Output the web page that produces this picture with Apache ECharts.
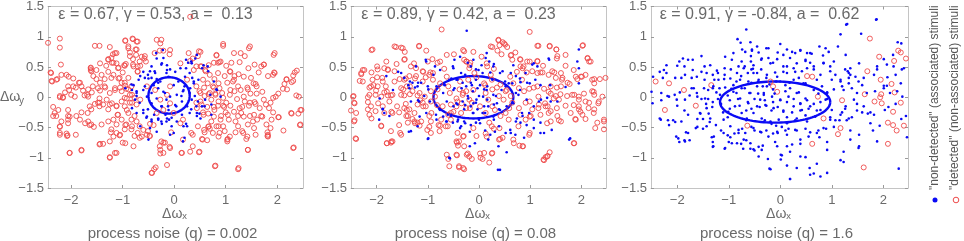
<!DOCTYPE html>
<html>
<head>
<meta charset="utf-8">
<script src="https://cdn.jsdelivr.net/npm/echarts@6/dist/echarts.min.js"></script>
<style>
html, body { margin: 0; padding: 0; background: #fff; }
#chart { width: 964px; height: 241px; }
</style>
</head>
<body>
<div id="chart"></div>
<script>
// ticks / labels
const xTicks = [-2, -1, 0, 1, 2]
const yTicks = [-1.5, -1, -0.5, 0, 0.5, 1, 1.5]
const xRanges = [[-2.45, 2.5], [-2.5, 2.48], [-2.51, 2.48]]
const yRange = [-1.5, 1.5]
const paramLabels = ['ε = 0.67, γ = 0.53, a =  0.13', 'ε = 0.89, γ = 0.42, a =  0.23', 'ε = 0.91, γ = -0.84, a =  0.62']
const noiseLabels = ['process noise (q) = 0.002', 'process noise (q) = 0.08', 'process noise (q) = 1.6']
const legendLabels = ['"non-detected" (associated) stimuli', '"detected" (non-associated) stimuli']

// ellipse per panel: [cx, cy, rx, ry]
const ellipses = [[-0.1, 0.03, 0.4, 0.3], [-0.11, 0, 0.78, 0.35], [-0.1, -0.08, 1.07, 0.34]]

// panel 1 (q = 0.002)
const p1Detected = [[-2.45,0.90],[-2.22,0.97],[-2.22,0.82],[-2.40,0.41],[-2.2,0.54],[-2.38,0.27],[-2.29,0.29],[-2.09,0.37],[-1.96,0.31],[-1.85,0.24],[-1.91,0.16],[-2.04,0.12],[-2.12,0.08],[-2.22,0.0],[-2.16,0.0],[-2.35,-0.16],[-2.25,-0.21],[-2.35,-0.31],[-2.06,-0.21],[-2.03,-0.32],[-2.06,-0.37],[-2.22,-0.48],[-2.22,-0.59],[-2.08,-0.64],[-2.09,-0.60],[-2.03,-0.92],[-1.8,-0.88],[-1.91,-0.62],[-1.73,-0.43],[-1.64,-0.46],[-1.56,-0.49],[-1.68,-0.26],[-1.64,-0.15],[-1.54,-0.11],[-1.45,-0.09],[-1.45,-0.02],[-1.6,0.08],[-1.69,0.04],[-1.77,0.11],[-1.44,0.11],[-1.34,0.16],[-1.44,0.24],[-1.57,0.35],[-1.62,0.45],[-1.62,0.49],[-1.51,0.45],[-1.44,0.56],[-1.32,0.52],[-1.28,0.63],[-1.19,0.71],[-1.15,0.73],[-1.21,0.57],[-1.12,0.56],[-1.08,0.49],[-1.0,0.41],[-0.97,0.53],[-0.94,0.55],[-0.95,0.93],[-0.81,0.97],[-0.73,0.92],[-0.89,0.84],[-0.73,0.79],[-0.86,0.74],[-0.74,0.70],[-0.63,0.67],[-0.58,0.64],[-0.55,0.59],[-0.79,0.51],[-0.71,0.42],[-0.66,0.52],[-1.28,0.42],[-1.18,0.37],[-1.08,0.31],[-1.02,0.24],[-0.95,0.19],[-0.89,0.13],[-1.05,0.16],[-1.15,0.12],[-1.25,0.07],[-1.31,-0.04],[-1.21,-0.10],[-1.12,-0.14],[-1.02,-0.07],[-0.92,-0.02],[-0.82,0.04],[-0.82,-0.09],[-0.92,-0.21],[-1.1,-0.29],[-1.18,-0.37],[-1.02,-0.37],[-0.95,-0.46],[-0.82,-0.48],[-0.73,-0.40],[-1.12,-0.59],[-1.18,-0.65],[-1.05,-0.62],[-0.95,-0.76],[-1.0,-0.75],[-1.15,-0.92],[-1.25,-0.99],[-1.44,-0.77],[-1.38,-0.77],[-0.79,-0.81],[-0.63,-0.65],[-0.53,-0.62],[-0.48,-0.64],[-0.6,-0.54],[-0.4,-0.46],[-0.47,-0.44],[-0.44,-1.25],[-0.39,-1.19],[-0.27,-0.93],[-0.27,-0.87],[-0.21,-0.75],[-0.09,-0.82],[-0.14,-1.12],[-0.06,-0.58],[0.15,-0.92],[0.31,-0.90],[0.49,-0.90],[0.36,-0.62],[0.54,-0.69],[0.64,-0.71],[0.67,-0.48],[0.75,-0.59],[0.58,-0.54],[0.86,-0.65],[0.8,-1.13],[1.03,-0.70],[1.08,-0.65],[1.24,-0.48],[1.42,-0.65],[1.43,-0.87],[1.25,-1.17],[1.55,-0.51],[1.61,-0.37],[1.81,-0.64],[1.81,-0.58],[2.03,-0.33],[2.12,-0.55],[2.32,-0.83],[2.44,-0.46],[2.27,-0.26],[2.45,-0.21],[2.42,0.01],[2.19,0.13],[2.14,0.22],[2.18,0.30],[2.38,0.44],[2.31,0.27],[1.94,0.41],[1.95,0.73],[1.74,0.54],[1.64,0.41],[1.58,0.22],[1.49,0.32],[1.44,0.48],[1.47,0.84],[1.29,0.73],[1.16,0.73],[0.95,0.88],[0.82,0.70],[0.9,0.59],[0.77,0.57],[0.67,0.53],[0.51,0.75],[0.36,0.64],[0.31,0.60],[0.43,0.51],[0.51,0.51],[0.6,0.45],[1.09,0.42],[1.25,0.38],[1.35,0.34],[1.16,0.29],[1.03,0.24],[0.86,0.23],[0.77,0.16],[0.58,0.16],[0.51,0.07],[0.67,0.05],[0.8,0.04],[0.93,0.07],[1.09,0.12],[1.29,0.12],[1.42,0.16],[1.22,-0.03],[1.09,-0.14],[0.97,-0.16],[0.86,-0.07],[0.77,-0.16],[0.64,-0.16],[0.51,-0.07],[0.44,-0.18],[0.57,-0.29],[0.77,-0.32],[0.9,-0.37],[1.04,-0.29],[1.16,-0.24],[1.32,-0.16],[1.45,-0.14],[1.58,-0.11],[1.74,-0.04],[1.84,-0.18],[1.97,0.01],[1.71,0.09],[1.55,-0.29],[1.35,-0.32],[1.19,-0.40],[0.86,-0.48],[0.12,-0.43],[-0.01,-0.26],[-0.21,-0.21],[-0.34,-0.26],[-0.08,-0.10],[-0.27,-0.04],[-0.14,0.04],[-0.08,0.18],[-0.37,0.12],[-0.66,-0.04],[-0.53,0.18],[-0.34,0.95],[-0.27,0.89],[-0.21,0.77],[-0.09,0.71],[-0.08,0.78],[0.12,0.56],[0.38,0.45],[0.28,0.73],[0.25,0.29],[0.31,1.33],
  [-0.95,0.94],[-0.8,0.96],[-0.71,0.92],[-0.25,0.95],[-0.89,0.81],[-0.75,0.79],[-0.57,0.68],[-0.86,0.68],[-0.8,0.63],[-0.67,0.59],[-1.25,0.83],[-1.22,0.65],[-1.12,0.73],[-1.28,0.62],[-1.18,0.57],[-1.09,0.48],[-0.96,0.52],[-0.8,0.54],[-0.71,0.51],[-0.71,0.43],[-1.54,0.85],[-1.45,0.85],[-1.62,0.48],[-1.61,0.43],[-1.41,0.37],[-1.51,0.30],[-1.35,0.30],[-1.22,0.32],[-1.06,0.32],[-0.89,0.32],[-0.96,0.24],[-0.83,0.18],[-0.93,0.14],[-1.02,0.10],[-1.15,0.15],[-1.35,0.18],[-1.48,0.15],[-1.58,0.18],[-1.67,0.13],[-1.8,0.18],[-1.83,0.24],[-1.96,0.18],[-2.06,0.18],[-2.19,0.37],[-2.05,0.34],[-2.37,0.26],[-2.27,0.30],[-2.39,0.40],[-2.22,0.02],[-2.16,-0.01],[-2.0,0.04],[-1.93,0.01],[-1.74,0.03],[-1.67,0.01],[-1.48,-0.09],[-1.45,-0.15],[-1.61,-0.20],[-1.8,-0.25],[-1.9,-0.31],[-2.06,-0.31],[-2.32,-0.26],[-2.29,-0.31],[-2.19,-0.40],[-2.06,-0.43],[-2.22,-0.49],[-2.22,-0.62],[-2.07,-0.63],[-1.38,-0.12],[-1.25,-0.12],[-1.28,-0.20],[-1.12,-0.15],[-1.09,-0.29],[-0.96,-0.15],[-0.86,-0.09],[-0.96,-0.01],[-0.86,0.04],[-0.77,-0.01],[-0.73,-0.12],[-0.89,-0.26],[-0.77,-0.31],[-0.83,-0.37],[-0.93,-0.45],[-0.96,-0.53],[-0.83,-0.53],[-0.67,-0.48],[-0.71,-0.59],[-0.77,-0.64],[-0.67,-0.67],[-1.22,-0.53],[-1.12,-0.45],[-1.28,-0.40],[-1.41,-0.45],[-1.61,-0.45],[-1.67,-0.40],[-1.83,-0.37],[-1.23,-0.58],[-1.06,-0.63],[-1.25,-0.73],[-1.45,-0.78],[-1.8,-0.87],[-2.03,-0.92],[-1.25,-1.00],[-1.12,-0.92],[-0.47,-0.64],[-0.51,-0.56],[-0.25,-0.73],[-0.18,-0.75],[-0.28,-0.81],[-0.21,-0.92],[-0.36,-1.16],[-0.43,-1.25],[-0.08,-0.84],[-0.28,0.77],[-0.38,0.73],
  [0.95,0.85],[0.48,0.76],[0.46,0.68],[0.82,0.69],[0.88,0.58],[0.85,0.57],[1.01,0.52],[1.11,0.57],[1.27,0.58],[1.37,0.68],[1.45,0.81],[1.56,0.54],[1.69,0.51],[1.74,0.54],[1.93,0.70],[1.82,0.35],[1.92,0.37],[1.95,0.40],[2.18,0.29],[2.28,0.25],[2.31,0.36],[2.34,0.41],[2.37,0.03],[2.47,-0.21],[2.41,-0.27],[2.45,-0.45],[2.28,-0.27],[2.31,-0.84],[2.11,0.14],[2.02,0.06],[1.92,-0.01],[1.87,-0.09],[1.78,-0.12],[1.92,-0.25],[2.02,-0.33],[1.89,-0.37],[1.79,-0.45],[1.87,-0.51],[1.82,-0.62],[1.82,-0.65],[1.69,-0.31],[1.66,-0.18],[1.56,-0.08],[1.47,-0.09],[1.48,0.06],[1.6,0.06],[1.6,0.18],[1.54,0.23],[1.43,0.13],[1.35,0.01],[1.37,-0.07],[1.27,-0.18],[1.3,-0.26],[1.24,-0.31],[1.47,-0.31],[1.53,-0.40],[1.58,-0.62],[1.43,-0.45],[1.34,-0.59],[1.4,-0.69],[1.19,-0.58],[1.06,-0.37],[1.0,-0.25],[0.95,-0.14],[1.01,-0.09],[0.95,-0.01],[1.08,0.04],[1.17,0.10],[1.24,0.18],[1.14,0.26],[1.17,0.35],[1.08,0.43],[0.98,0.35],[0.85,0.40],[0.78,0.30],[0.69,0.37],[0.61,0.43],[0.53,0.51],[0.56,0.29],[0.65,0.23],[0.75,0.18],[0.88,0.15],[0.8,0.06],[0.69,0.07],[0.59,0.02],[0.49,0.10],[0.43,0.18],[0.72,-0.04],[0.85,-0.14],[0.78,-0.21],[0.66,-0.27],[0.56,-0.25],[0.53,-0.12],[0.43,-0.09],[0.91,-0.31],[0.72,-0.40],[0.66,-0.49],[0.69,-0.52],[0.82,-0.48],[0.95,-0.48],[0.98,-0.56],[1.04,-0.69],[1.03,-0.73],[0.88,-0.59],[0.59,-0.58],[0.46,-0.48],[0.17,-0.37],[0.17,-0.70],[0.33,-0.59],[0.55,-0.70],[0.36,-0.81],[0.48,-0.91],[0.14,-0.92],[0.79,-1.14],[1.24,-1.19],[1.43,-0.87],[1.32,-0.56],[1.71,-0.32]]
const p1Associated = [[-0.35,0.73],[-0.22,0.78],[-0.34,0.64],[-0.24,0.56],[-0.14,0.53],[-0.44,0.51],[-0.6,0.42],[-0.66,0.35],[-0.69,0.29],[-0.79,0.20],[-0.82,0.12],[-0.73,0.07],[-0.76,-0.04],[-0.82,-0.18],[-0.73,-0.26],[-0.6,-0.21],[-0.53,-0.32],[-0.44,-0.40],[-0.47,-0.51],[-0.34,-0.57],[-0.24,-0.44],[-0.14,-0.35],[-0.05,-0.48],[-0.01,-0.59],[-0.08,-0.62],[0.05,-0.40],[0.15,-0.29],[0.25,-0.48],[0.17,-0.73],[0.23,-0.44],[0.44,-0.26],[0.51,-0.35],[0.54,-0.15],[0.6,-0.04],[0.7,0.04],[0.83,0.12],[0.9,0.01],[0.77,0.26],[0.47,0.29],[0.38,0.26],[0.41,0.64],[0.44,0.70],[0.34,0.56],[0.57,0.53],[0.65,0.51],[0.12,0.48],[0.02,0.42],[-0.11,0.34],[-0.27,0.26],[-0.4,0.20],[-0.31,0.15],[-0.21,0.09],[-0.01,0.20],[0.08,0.26],[0.18,0.12],[0.05,0.04],[-0.08,0.01],[-0.34,-0.02],[-0.44,-0.10],[-0.24,-0.15],[-0.11,-0.21],[0.02,-0.13],[0.15,-0.07],[0.25,-0.15],[-0.53,0.01],[-0.6,0.12],[-0.5,0.31],[-0.37,0.40],[-0.14,0.45],[0.21,0.34],[0.31,0.15],[0.34,-0.04],[-0.66,-0.48],[-0.5,-0.70],[-0.17,-0.29],[-0.31,-0.35],
  [-0.95,0.15],[-0.83,0.21],[-0.73,0.10],[-0.73,0.02],[-0.67,-0.09],[-0.57,0.18],[-0.57,0.32],[-0.51,0.37],[-0.44,0.32],[-0.34,0.30],[-0.47,0.43],[-0.38,0.43],[-0.25,0.54],[-0.21,0.65],[-0.15,0.40],[-0.08,0.46],[-0.6,-0.26],[-0.51,-0.20],[-0.39,-0.29],[-0.31,-0.37],[-0.25,-0.40],[-0.15,-0.40],[-0.1,-0.37],[-0.05,-0.34],[-0.44,-0.37],[-0.54,-0.34],[-0.44,0.07],[-0.31,0.24],[-0.18,0.07],[-0.15,-0.04],[-0.25,-0.15],[-0.12,-0.15],
  [0.23,0.62],[0.27,0.57],[0.33,0.59],[0.23,0.48],[0.3,0.40],[0.35,0.32],[0.38,0.23],[0.2,0.18],[0.17,0.10],[0.14,0.02],[0.3,0.07],[0.4,0.02],[0.46,-0.07],[0.43,-0.15],[0.33,-0.20],[0.3,-0.26],[0.49,-0.27],[0.44,-0.31],[0.59,-0.15],[0.72,-0.12],[0.82,0.13],[0.72,-0.29],[0.18,-0.48],[0.2,-0.67],[0.04,-0.15],[0.54,0.48],[0.66,0.43]]

// panel 2 (q = 0.08)
const p2Detected = [[-0.73,1.12],[0.99,1.08],[-2.1,0.78],[-1.65,0.84],[-1.52,0.82],[-1.45,0.75],[-1.17,0.85],[-1.03,0.77],[-1.45,0.63],[-1.61,0.55],[-1.81,0.59],[-1.99,0.51],[-2.1,0.41],[-2.27,0.45],[-2.3,0.38],[-2.33,0.27],[-1.99,0.33],[-1.78,0.45],[-1.88,0.26],[-2.06,0.20],[-2.14,0.16],[-2.01,0.11],[-1.8,0.09],[-1.69,0.04],[-1.91,0.01],[-2.17,0.0],[-2.46,0.01],[-2.43,-0.10],[-2.5,-0.22],[-2.43,-0.38],[-2.41,-0.68],[-2.17,-0.20],[-2.14,-0.29],[-2.1,-0.35],[-1.91,-0.48],[-1.8,-0.76],[-1.71,-0.73],[-1.54,-0.59],[-1.56,-0.46],[-1.71,-0.24],[-1.6,-0.15],[-1.43,-0.11],[-1.41,-0.21],[-1.42,-0.31],[-1.3,-0.36],[-1.25,-0.43],[-1.16,-0.47],[-1.01,-0.54],[-1.35,0.05],[-1.48,0.13],[-1.35,0.18],[-1.25,0.31],[-1.43,0.31],[-1.55,0.30],[-1.27,0.56],[-1.09,0.42],[-1.04,0.33],[-0.95,0.41],[-0.91,0.63],[-0.76,0.59],[-0.63,0.70],[-0.49,0.71],[-0.31,0.78],[-0.29,0.62],[-0.11,0.75],[-0.24,0.59],[-0.18,0.53],[0.05,0.67],[0.15,0.56],[0.23,0.84],[0.4,0.86],[0.38,0.95],[0.49,0.89],[0.44,0.71],[0.63,0.70],[0.71,0.74],[0.8,0.63],[0.87,0.51],[0.99,0.59],[1.14,0.60],[1.14,0.85],[1.38,0.85],[1.51,0.79],[1.52,0.64],[1.25,0.52],[0.93,0.41],[0.84,0.29],[1.2,0.41],[1.36,0.37],[1.47,0.41],[1.6,0.40],[1.69,0.52],[1.85,0.45],[2.03,0.86],[2.12,0.64],[2.18,0.59],[2.01,0.34],[1.92,0.30],[2.21,0.29],[2.36,0.30],[2.49,0.33],[2.25,0.23],[1.77,0.22],[1.62,0.29],[1.52,0.16],[1.36,0.09],[1.07,0.16],[1.16,0.01],[0.99,-0.07],[1.29,-0.10],[1.46,-0.02],[1.59,0.05],[1.72,0.02],[1.86,0.04],[1.95,-0.04],[2.08,-0.07],[2.24,0.09],[2.34,-0.07],[2.41,0.01],[2.14,-0.18],[2.24,-0.26],[1.98,-0.24],[1.85,-0.13],[1.69,-0.14],[1.52,-0.18],[1.34,-0.15],[1.16,-0.18],[1.2,-0.29],[1.36,-0.26],[1.56,-0.38],[1.88,-0.36],[2.08,-0.36],[2.27,-0.51],[2.44,-0.37],[2.44,-0.53],[1.85,-0.76],[1.33,-0.43],[0.99,-0.32],[0.99,-0.59],[0.86,-0.81],[0.79,-0.80],[0.67,-0.70],[0.41,-0.69],[0.4,-0.51],[0.25,-0.48],[0.15,-0.65],[-0.05,-0.64],[-0.11,-0.51],[-0.31,-0.65],[-0.44,-0.73],[-0.41,-0.80],[-0.44,-0.95],[-0.24,-0.95],[-0.14,-1.02],[0.02,-0.93],[0.07,-1.02],[0.25,-0.93],[-0.58,-1.14],[-0.39,-1.14],[-0.31,-1.17],[-0.63,-0.95],[-0.6,-1.02],[1.34,-0.97],[1.26,-1.03],[1.3,-0.99],[-0.65,-0.48],[-0.76,-0.47],[-0.5,-0.24],[-0.44,-0.15],[-0.34,-0.10],[-0.18,-0.18],[0.02,-0.15],[0.18,-0.04],[0.31,-0.21],[0.48,-0.04],[0.54,0.12],[0.35,0.16],[0.12,0.20],[-0.11,0.12],[-0.31,0.07],[-0.44,-0.02],[-0.57,0.07],[-0.6,0.18],[-0.37,0.26],[-0.21,0.29],[-0.05,0.33],[0.25,0.29],[-0.63,0.34],[-0.76,0.23],[-0.9,0.29],[-0.86,0.01],[-1.06,0.01],[-1.09,-0.15],[-0.93,-0.26],[-0.82,-0.13],[-0.6,-0.29],[0.58,-0.37],[0.77,-0.48],[0.61,0.34],[0.67,0.23],[0.74,0.42],[-1.16,0.07],[-1.15,-0.05],[-1.75,-0.07],[-1.88,-0.15],[-1.97,-0.10],
  [-2.08,0.79],[-1.62,0.83],[-1.49,0.81],[-1.17,0.84],[-1.46,0.62],[-1.78,0.46],[-1.65,0.43],[-1.85,0.48],[-1.98,0.46],[-2.24,0.45],[-2.3,0.40],[-2.27,0.26],[-2.08,0.29],[-1.89,0.32],[-1.98,0.18],[-2.11,0.18],[-2.02,0.04],[-2.14,0.04],[-1.85,0.08],[-1.78,0.03],[-1.72,0.03],[-1.52,0.04],[-1.46,0.03],[-1.82,0.18],[-1.65,0.26],[-1.52,0.15],[-1.41,0.18],[-1.3,0.10],[-1.2,0.03],[-1.1,0.26],[-0.97,0.37],[-0.9,0.40],[-1.1,0.43],[-1.23,0.48],[-1.33,0.51],[-1.23,0.35],[-1.36,0.35],[-1.46,0.29],[-2.45,0.02],[-2.44,-0.09],[-2.4,-0.26],[-2.44,-0.40],[-2.4,-0.69],[-2.17,-0.08],[-2.11,-0.15],[-2.02,-0.23],[-1.85,-0.26],[-1.69,-0.26],[-1.56,-0.25],[-1.46,-0.18],[-1.36,-0.20],[-1.2,-0.12],[-1.1,-0.09],[-1.04,-0.15],[-0.94,-0.07],[-1.26,-0.26],[-1.39,-0.31],[-1.26,-0.40],[-1.2,-0.42],[-1.39,-0.42],[-1.13,-0.40],[-0.97,-0.31],[-0.94,-0.40],[-0.97,-0.49],[-0.94,-0.59],[-0.79,-0.46],[-0.74,-0.37],[-0.55,-0.37],[-1.91,-0.47],[-1.72,-0.56],[-1.52,-0.62],[-1.72,-0.75],[-1.8,-0.76],[-1.69,-0.73],[-0.42,-0.59],[-0.43,-0.75],[-0.39,-0.73],[-0.3,-0.64],[-0.29,-0.81],[-0.43,-0.96],[-0.39,-1.16],[-0.29,-1.19],[-0.22,-0.93],[-0.19,-0.98],[-0.94,0.10],[-0.81,0.13],[-0.71,-0.15],[-0.55,-0.12],[-0.42,-0.07],[-0.32,0.04],[-0.38,0.13],[-0.25,0.10],[-0.19,-0.04],[-0.14,-0.09],[-0.25,-0.18],[-0.35,-0.26],[-0.55,-0.26],[-0.61,-0.48],[-0.77,-0.56],[-0.17,0.57],[-0.09,0.40],[-0.25,0.59],[-0.19,0.48],[-0.29,0.76],[-1.0,0.59],[-0.81,0.57],[-0.68,0.47],
  [0.38,0.94],[0.46,0.91],[0.51,0.87],[0.55,0.83],[0.26,0.83],[0.36,0.77],[1.16,0.85],[1.38,0.84],[1.51,0.79],[1.53,0.68],[1.69,0.70],[2.02,0.85],[2.12,0.65],[2.15,0.59],[0.62,0.69],[0.65,0.62],[0.81,0.62],[0.81,0.51],[0.94,0.59],[1.14,0.59],[0.85,0.48],[1.04,0.43],[1.14,0.40],[1.24,0.41],[1.43,0.43],[1.5,0.32],[1.63,0.32],[1.73,0.24],[1.89,0.34],[1.99,0.34],[2.08,0.37],[2.25,0.30],[2.47,0.32],[1.6,0.18],[1.4,0.18],[1.27,0.14],[1.14,0.18],[0.98,0.14],[0.88,0.10],[0.78,0.15],[1.4,0.06],[1.5,0.02],[1.56,-0.04],[1.82,0.04],[1.95,0.01],[2.05,0.06],[2.21,0.10],[2.25,0.04],[2.33,-0.10],[2.15,-0.09],[1.95,-0.15],[1.79,-0.26],[1.95,-0.20],[2.02,-0.29],[2.25,-0.20],[2.31,-0.42],[2.44,-0.40],[1.89,-0.37],[1.6,-0.40],[1.53,-0.31],[1.4,-0.40],[1.4,-0.23],[1.3,-0.15],[1.17,-0.12],[1.04,-0.20],[1.01,-0.31],[0.91,-0.37],[0.81,-0.29],[0.78,-0.18],[0.91,-0.09],[0.65,-0.09],[0.59,-0.18],[0.52,-0.26],[0.42,-0.31],[0.26,-0.15],[0.13,-0.26],[0.2,-0.42],[0.29,-0.52],[0.13,-0.60],[0.39,-0.70],[0.46,-0.67],[0.26,-0.92],[0.1,-0.92],[0.2,-1.08],[0.03,-1.00],[0.68,-0.76],[0.85,-0.81],[0.98,-0.62],[1.27,-1.04],[1.33,-0.98],[1.38,-0.91],[1.86,-0.76],[0.39,0.02],[0.52,0.10],[0.62,0.02],[0.42,0.21],[0.26,0.13],[0.13,0.07],[0.1,0.23],[0.23,0.37],[0.29,0.47],[0.16,0.51]]
const p2Associated = [[-0.24,1.10],[1.95,0.79],[1.92,0.59],[1.07,0.56],[1.14,0.51],[1.36,0.64],[-1.81,0.35],[-1.94,-0.02],[-1.88,-0.20],[-1.95,-0.37],[-1.37,-0.57],[-1.58,0.42],[-1.35,0.26],[-1.38,0.20],[-1.25,0.16],[-1.19,0.24],[-1.19,-0.05],[-1.03,0.59],[-0.86,0.51],[-0.76,0.45],[-0.83,0.18],[-0.99,0.13],[-0.96,-0.07],[-1.03,-0.26],[-1.16,-0.32],[-0.99,-0.68],[-0.83,-0.37],[-0.7,-0.32],[-0.63,-0.40],[-0.54,-0.29],[-0.41,-0.37],[-0.27,-0.43],[-0.37,-0.51],[-0.18,-0.57],[0.02,-0.43],[0.12,-0.55],[0.22,-0.62],[0.31,-0.57],[0.38,-0.81],[0.41,-1.20],[0.54,-0.91],[-0.18,-0.81],[-0.08,-0.76],[-0.57,-1.01],[0.18,-0.70],[0.61,-0.54],[0.71,-0.62],[0.74,-0.35],[0.84,-0.26],[0.93,-0.46],[1.07,-0.37],[1.07,-0.51],[1.2,-0.59],[1.42,-0.54],[1.78,-0.68],[1.21,-0.04],[1.07,-0.15],[0.93,-0.04],[0.8,0.12],[0.99,0.23],[1.1,0.29],[1.2,0.20],[1.39,0.20],[0.8,0.31],[0.58,0.23],[0.44,0.12],[0.41,0.40],[0.51,0.26],[0.22,0.41],[0.28,0.51],[0.05,0.53],[-0.01,0.45],[0.15,0.73],[-0.11,0.62],[-0.37,0.67],[-0.5,0.48],[-0.44,0.29],[-0.54,0.31],[-0.27,0.37],[-0.14,0.20],[0.02,0.20],[0.15,0.12],[0.28,0.04],[0.08,0.01],[-0.05,-0.04],[-0.21,-0.02],[-0.27,-0.13],[-0.44,-0.10],[-0.63,-0.07],[-0.7,0.07],[-0.76,-0.21],[-0.5,-0.15],[-0.11,-0.26],[0.12,-0.26],[0.28,-0.32],[0.41,-0.21],[0.54,-0.15],[0.67,-0.10],[0.35,-0.10],[0.18,-0.15],[-0.11,-0.10],[-0.34,0.15],[-0.5,0.12],[-0.67,0.20],[-0.89,0.37],[0.67,0.53],[0.77,0.04],[-1.68,0.12],
  [-1.23,0.51],[-1.52,0.40],[-1.46,0.32],[-1.3,0.24],[-1.36,0.15],[-1.2,0.18],[-1.13,0.24],[-1.04,0.62],[-1.0,0.18],[-1.07,0.02],[-1.17,-0.07],[-1.33,-0.07],[-1.85,-0.26],[-1.88,-0.19],[-1.75,-0.31],[-1.33,-0.56],[-1.2,-0.48],[-1.0,-0.69],[-0.58,-1.00],[-0.84,-0.29],[-0.77,-0.20],[-0.61,-0.29],[-0.55,-0.31],[-0.51,-0.42],[-0.64,-0.40],[-0.42,-0.40],[-0.29,-0.40],[-0.35,-0.48],[-0.16,-0.46],[-0.06,-0.42],[-0.68,0.21],[-0.58,0.29],[-0.48,0.15],[-0.42,0.29],[-0.32,0.24],[-0.25,0.18],[-0.16,0.24],[-0.06,0.29],[-0.03,0.15],[-0.12,0.10],[-0.22,0.02],[-0.32,-0.07],[-0.42,-0.12],[-0.29,-0.20],[-0.16,-0.15],[-0.06,-0.09],[-0.03,-0.20],[-0.12,-0.26],[-0.51,0.51],[-0.48,0.62],[-0.22,0.57],[-0.16,0.51],[-0.06,0.46],[-0.35,0.40],
  [1.95,0.48],[1.37,0.62],[1.04,0.54],[0.91,0.40],[0.81,0.25],[0.94,0.24],[0.72,0.35],[0.62,0.40],[0.46,0.43],[0.13,0.65],[0.2,0.59],[0.29,0.55],[0.07,0.40],[0.26,0.29],[0.16,0.18],[0.1,0.13],[0.0,0.02],[0.16,-0.04],[0.33,0.02],[0.29,-0.12],[0.39,-0.20],[0.1,-0.15],[0.07,-0.26],[0.0,-0.37],[0.29,-0.37],[0.39,-0.48],[0.52,-0.59],[0.62,-0.59],[0.72,-0.40],[0.81,-0.42],[0.85,-0.31],[0.98,-0.26],[1.17,-0.07],[1.33,-0.01],[1.4,-0.07],[1.53,-0.07],[1.2,-0.42],[1.27,-0.59],[0.88,-0.67],[0.37,-1.20],[1.76,-0.70],[0.65,0.23],[0.52,0.18],[0.72,0.07],[1.69,0.17],[1.95,0.23]]

// panel 3 (q = 1.6)
const p3Detected = [[-2.42,0.26],[-2.16,0.23],[-1.87,0.12],[-2.24,-0.21],[-1.64,-0.14],[-1.34,0.20],[-0.19,0.26],[-0.14,0.18],[-0.06,0.09],[-0.64,-0.47],[0.52,0.35],[0.62,0.34],[0.73,0.01],[0.84,-0.35],[0.62,-0.77],[1.17,-0.51],[1.12,-0.61],[1.2,-0.05],[1.62,-1.16],[1.64,0.05],[1.74,0.97],[1.69,0.43],[1.83,-0.07],[1.92,0.67],[1.95,0.29],[1.94,0.0],[1.96,0.05],[1.97,-0.10],[2.16,0.22],[2.21,0.60],[2.22,0.08],[2.19,-0.24],[2.29,0.77],[2.34,0.74],[2.34,-0.09],[2.44,0.64],[2.09,-0.42],[2.19,-0.46],[2.09,-0.77],[2.26,-0.55],[2.4,-0.47],[2.49,-0.44]]
const p3Associated = [[-0.66,1.12],[1.3,1.21],[1.87,1.29],[1.17,1.04],[1.57,1.05],[-0.83,0.96],[-0.77,0.9],[-0.55,0.79],[-0.55,0.77],[-0.68,0.75],[-0.91,0.73],[-1.07,0.67],[-0.94,0.62],[-0.75,0.59],[-0.45,0.84],[-0.23,0.81],[0.0,0.88],[0.06,0.70],[0.23,0.75],[0.39,0.78],[0.58,0.73],[0.88,0.81],[0.94,0.75],[1.12,0.84],[1.27,0.70],[1.36,0.48],[1.31,0.43],[1.53,0.56],[2.01,0.63],[2.19,0.70],[2.35,0.89],[2.4,0.48],[2.24,0.37],[2.08,0.33],[2.01,0.15],[2.13,0.07],[2.34,0.23],[2.37,0.01],[2.49,0.15],[2.49,-0.21],[2.44,-0.31],[2.35,-0.36],[2.49,-0.65],[2.24,-0.11],[2.03,-0.21],[1.82,-0.29],[1.75,-0.43],[1.53,-0.62],[1.53,-0.81],[1.36,-0.70],[1.23,-0.90],[1.17,-1.04],[0.91,-1.25],[0.58,-1.28],[0.57,-1.17],[0.32,-1.17],[0.19,-1.35],[-0.19,-1.19],[0.01,-1.03],[0.01,-0.95],[0.19,-0.90],[-0.06,-0.81],[-0.36,-0.87],[-0.52,-0.86],[-0.58,-0.76],[-0.71,-0.70],[-0.84,-0.76],[-1.07,-0.84],[-1.3,-0.81],[-1.29,-0.65],[-1.1,-0.59],[-0.97,-0.66],[-1.85,-0.73],[-1.98,-0.68],[-1.79,-0.59],[-1.64,-0.51],[-1.92,-0.40],[-2.08,-0.38],[-2.16,-0.46],[-2.34,-0.35],[-2.48,-0.10],[-2.5,0.09],[-2.31,0.07],[-2.16,0.01],[-2.01,-0.04],[-1.85,-0.04],[-1.95,0.08],[-1.72,0.15],[-1.62,0.07],[-1.61,0.01],[-1.46,-0.02],[-1.43,-0.18],[-1.56,-0.26],[-1.36,-0.35],[-1.25,-0.46],[-1.43,-0.48],[-1.61,-0.36],[-1.79,-0.29],[-2.21,0.53],[-2.26,0.45],[-1.96,0.59],[-2.0,0.52],[-1.79,0.62],[-1.7,0.45],[-1.85,0.37],[-1.62,0.34],[-1.53,0.42],[-1.43,0.40],[-1.36,0.53],[-1.23,0.44],[-1.2,0.29],[-1.3,0.18],[-1.4,0.12],[-1.17,0.04],[-1.07,0.16],[-0.97,0.31],[-0.84,0.40],[-0.71,0.48],[-0.52,0.53],[-0.36,0.64],[-0.19,0.56],[-0.06,0.63],[0.13,0.51],[0.32,0.56],[0.49,0.60],[0.65,0.51],[0.84,0.56],[0.97,0.51],[1.07,0.37],[1.17,0.29],[1.23,0.12],[1.33,0.23],[1.46,0.34],[1.59,0.20],[1.49,0.07],[1.43,-0.04],[1.27,-0.15],[1.17,-0.29],[1.33,-0.35],[1.0,-0.21],[0.97,-0.37],[0.84,-0.51],[0.71,-0.59],[0.55,-0.65],[0.39,-0.70],[0.29,-0.54],[0.13,-0.62],[-0.06,-0.57],[-0.23,-0.65],[-0.39,-0.57],[-0.52,-0.51],[-0.68,-0.59],[-0.81,-0.54],[-0.97,-0.48],[-1.1,-0.37],[-1.01,-0.24],[-0.88,-0.15],[-0.75,-0.26],[-0.65,-0.35],[-0.52,-0.26],[-0.36,-0.35],[-0.19,-0.40],[-0.03,-0.37],[0.13,-0.43],[0.32,-0.35],[0.52,-0.40],[0.68,-0.32],[0.78,-0.21],[0.58,-0.15],[0.42,-0.21],[0.26,-0.15],[0.06,-0.24],[-0.13,-0.18],[-0.29,-0.13],[-0.45,-0.15],[-0.62,-0.10],[-0.78,-0.02],[-0.91,0.09],[-0.75,0.15],[-0.58,0.07],[-0.45,0.18],[-0.32,0.07],[-0.16,0.01],[0.0,-0.04],[0.16,0.01],[0.32,0.07],[0.49,-0.02],[0.65,0.12],[0.81,0.18],[0.91,0.07],[0.71,0.29],[0.45,0.23],[0.26,0.29],[0.1,0.20],[-0.06,0.34],[-0.26,0.37],[-0.42,0.29],[-0.62,0.26],[-0.78,0.29],[-0.91,0.20],[-0.52,0.40],[0.06,0.42],[0.29,0.42],[0.19,0.15],[-0.26,0.18],[-0.39,-0.04],[0.39,-0.10],[0.88,-0.04],[0.13,-0.81],[0.39,-0.98],[0.91,-0.87],[-0.42,-0.98],[1.36,0.37],[1.88,0.51],[1.82,0.37],[1.62,-0.15],[1.88,-0.73],[-2.47,0.34],[-2.34,0.42],
  [-0.74,0.79],[-0.58,0.91],[-0.57,0.68],[-0.57,0.59],[-0.42,0.74],[-0.37,0.62],[-0.27,0.81],[-0.23,0.65],[-0.14,0.57],[-0.1,0.41],[-0.05,0.74],[-0.45,0.40],[-0.53,0.47],[-0.63,0.40],[-0.69,0.51],[-0.81,0.51],[-0.96,0.46],[-1.08,0.48],[-1.21,0.40],[-1.09,0.30],[-1.28,0.29],[-1.31,0.15],[-1.47,0.29],[-1.48,0.15],[-1.53,0.68],[-1.47,0.51],[-1.7,0.62],[-1.72,0.32],[-1.86,0.51],[-1.89,0.64],[-1.92,0.32],[-2.04,0.32],[-2.21,0.40],[-2.28,0.32],[-2.19,0.02],[-2.05,0.04],[-1.76,0.03],[-1.68,0.15],[-1.24,0.08],[-1.18,0.15],[-0.95,0.14],[-0.85,0.26],[-0.76,0.35],[-0.85,0.07],[-0.69,0.15],[-0.56,0.24],[-0.43,0.26],[-0.34,0.18],[-0.27,0.32],[-0.21,0.21],[-0.14,0.13],[-0.08,0.26],[-0.6,0.07],[-0.43,0.06],[-0.32,0.04],[-0.11,0.06],[-1.02,0.03],[-0.56,0.46],[-0.37,0.46],[-1.08,0.37],[-1.31,0.37],
  [1.28,1.20],[1.86,1.28],[2.28,0.91],[0.76,0.84],[0.39,0.77],[0.13,0.79],[0.29,0.73],[0.52,0.73],[0.61,0.72],[0.19,0.65],[0.49,0.62],[0.58,0.57],[0.83,0.69],[0.84,0.57],[1.04,0.59],[1.26,0.46],[1.33,0.40],[0.97,0.43],[0.78,0.37],[0.65,0.46],[0.52,0.48],[0.42,0.43],[0.26,0.48],[0.06,0.51],[0.13,0.40],[0.0,0.26],[0.18,0.24],[0.36,0.32],[0.49,0.23],[1.0,0.29],[1.17,0.26],[1.33,0.32],[1.52,0.26],[1.62,0.32],[1.88,0.46],[2.07,0.54],[2.2,0.51],[2.36,0.46],[2.01,0.19],[2.07,0.19],[2.27,0.10],[1.84,0.10],[1.68,0.07],[1.39,0.15],[1.2,0.18],[1.04,0.13],[0.91,0.08],[0.74,0.06],[0.36,0.08],[0.1,0.10],
  [-2.31,-0.05],[-2.0,-0.14],[-2.18,-0.38],[-2.04,-0.41],[-2.32,-0.37],[-1.86,-0.22],[-1.83,-0.58],[-2.02,-0.65],[-1.86,-0.71],[-1.76,-0.71],[-1.96,-0.74],[-1.55,-0.27],[-1.5,-0.36],[-1.39,-0.27],[-1.32,-0.16],[-1.37,-0.41],[-1.61,-0.49],[-1.5,-0.52],[-1.33,-0.66],[-1.31,-0.82],[-1.31,-0.74],[-1.15,-0.55],[-1.08,-0.85],[-1.0,-0.74],[-0.94,-0.76],[-1.02,-0.63],[-0.89,-0.60],[-0.81,-0.59],[-0.76,-0.77],[-0.66,-0.71],[-0.72,-0.85],[-0.58,-0.85],[-0.5,-0.88],[-0.42,-0.82],[-0.34,-0.80],[-0.24,-1.02],[-0.21,-1.18],[-0.1,-0.74],[-0.66,-0.38],[-0.74,-0.52],[-0.56,-0.49],[-0.5,-0.55],[-0.37,-0.58],[-0.27,-0.55],[-0.14,-0.60],[-0.05,-0.59],[-0.17,-0.44],[-0.08,-0.47],[-0.3,-0.38],[-1.11,-0.25],[-1.02,-0.33],[-0.98,-0.19],[-1.31,-0.08],[-1.44,-0.11],[-1.53,-0.03],[-1.15,-0.11],[-0.98,-0.05],[-0.79,-0.14],[-0.66,-0.22],[-0.56,-0.19],[-0.4,-0.16],[-0.27,-0.14],[-0.17,-0.22],[-0.05,-0.16],[-0.82,-0.03],[-0.63,-0.08],[-0.5,-0.03],[-0.3,-0.05],[-0.14,-0.08],[-1.21,-0.03],[-1.4,-0.03],
  [0.0,-0.05],[0.13,-0.08],[0.26,-0.03],[0.39,-0.11],[0.52,-0.05],[0.65,-0.11],[0.78,-0.08],[0.91,-0.03],[0.06,-0.22],[0.23,-0.25],[0.39,-0.22],[0.55,-0.19],[0.71,-0.22],[0.13,-0.33],[0.29,-0.38],[0.49,-0.30],[0.03,-0.49],[0.16,-0.52],[0.1,-0.55],[0.32,-0.55],[0.49,-0.52],[0.58,-0.58],[0.74,-0.55],[0.89,-0.52],[1.04,-0.49],[0.97,-0.33],[1.07,-0.38],[1.15,-0.38],[1.2,-0.25],[1.29,-0.38],[1.39,-0.33],[1.49,-0.22],[1.59,-0.25],[1.7,-0.27],[1.75,-0.25],[1.93,-0.47],[2.1,-0.16],[1.49,-0.11],[1.26,-0.19],[1.36,-0.55],[0.76,-0.66],[0.91,-0.74],[0.39,-0.77],[0.23,-0.78],[0.03,-0.96],[0.49,-0.99],[0.71,-1.10],[0.13,-1.13],[0.65,-1.26],[0.78,-1.31],[0.19,-1.35],[1.23,-1.07],[1.52,-0.84],[1.8,-0.55],[2.3,-1.18],[2.46,-0.66]]

const detected = [p1Detected, p2Detected, p3Detected]
const associated = [p1Associated, p2Associated, p3Associated]

const FONT = 'Liberation Sans'
const TEXT_GRAY = '#6a6a6a'
const AXIS_GRAY = '#c4c4c4'
const BLUE = '#0a0af5'
const RED = '#ee4b4b'

const panels = [
  { left: 48, width: 255 },
  { left: 351, width: 255 },
  { left: 651, width: 257 }
]
const gridTop = 6
const gridHeight = 182

const fmt = v => (v < 0 ? '\u2212' + Math.abs(v) : String(v))

const chart = echarts.init(document.getElementById('chart'))

const grid = panels.map(p => ({ left: p.left, top: gridTop, width: p.width, height: gridHeight }))
const xAxis = []
const yAxis = []
panels.forEach((p, i) => {
  const tickStyle = { show: true, inside: true, length: 3, customValues: xTicks, lineStyle: { color: '#9a9a9a' } }
  xAxis.push({
    type: 'value', gridIndex: i, position: 'bottom', min: xRanges[i][0], max: xRanges[i][1],
    axisLine: { show: true, onZero: false, lineStyle: { color: AXIS_GRAY } },
    axisTick: tickStyle,
    axisLabel: { customValues: xTicks, formatter: fmt, color: TEXT_GRAY, fontFamily: FONT, fontSize: 13, margin: 6 },
    splitLine: { show: false }
  })
  xAxis.push({
    type: 'value', gridIndex: i, position: 'top', min: xRanges[i][0], max: xRanges[i][1],
    axisLine: { show: true, onZero: false, lineStyle: { color: AXIS_GRAY } },
    axisTick: tickStyle,
    axisLabel: { show: false },
    splitLine: { show: false }
  })
  const yTickStyle = { show: true, inside: true, length: 3, customValues: yTicks, lineStyle: { color: '#9a9a9a' } }
  yAxis.push({
    type: 'value', gridIndex: i, position: 'left', min: yRange[0], max: yRange[1],
    axisLine: { show: true, onZero: false, lineStyle: { color: AXIS_GRAY } },
    axisTick: yTickStyle,
    axisLabel: { customValues: yTicks, formatter: fmt, color: TEXT_GRAY, fontFamily: FONT, fontSize: 13, margin: 4 },
    splitLine: { show: false }
  })
  yAxis.push({
    type: 'value', gridIndex: i, position: 'right', min: yRange[0], max: yRange[1],
    axisLine: { show: true, onZero: false, lineStyle: { color: AXIS_GRAY } },
    axisTick: yTickStyle,
    axisLabel: { show: false },
    splitLine: { show: false }
  })
})

const series = []
panels.forEach((p, i) => {
  series.push({
    type: 'scatter', xAxisIndex: 2 * i, yAxisIndex: 2 * i, data: detected[i],
    symbol: 'circle', symbolSize: 5,
    itemStyle: { color: 'rgba(0,0,0,0)', borderColor: RED, borderWidth: 0.9, opacity: 1 },
    silent: true
  })
  series.push({
    type: 'scatter', xAxisIndex: 2 * i, yAxisIndex: 2 * i, data: associated[i],
    symbol: 'circle', symbolSize: 2.6,
    itemStyle: { color: BLUE, opacity: 1 },
    silent: true
  })
  series.push({
    type: 'custom', xAxisIndex: 2 * i, yAxisIndex: 2 * i, data: [ellipses[i]],
    silent: true,
    renderItem: (params, api) => {
      const cx = api.value(0), cy = api.value(1), rx = api.value(2), ry = api.value(3)
      const pts = []
      for (let k = 0; k <= 120; k++) {
        const t = (k / 120) * Math.PI * 2
        pts.push(api.coord([cx + rx * Math.cos(t), cy + ry * Math.sin(t)]))
      }
      return { type: 'polyline', shape: { points: pts }, style: { stroke: BLUE, lineWidth: 2.4, fill: null } }
    }
  })
})

const graphic = []
panels.forEach((p, i) => {
  const mid = p.left + p.width / 2
  graphic.push({
    type: 'text', x: mid - 20, y: 15,
    style: { text: paramLabels[i], fill: TEXT_GRAY, fontFamily: FONT, fontSize: 16, align: 'center', verticalAlign: 'middle' }
  })
  graphic.push({
    type: 'text', x: mid - 1, y: 214,
    style: { text: 'Δω\u2093', fill: TEXT_GRAY, fontFamily: FONT, fontSize: 14, align: 'center', verticalAlign: 'middle' }
  })
  graphic.push({
    type: 'text', x: mid - 3, y: 234,
    style: { text: noiseLabels[i], fill: TEXT_GRAY, fontFamily: FONT, fontSize: 15, align: 'center', verticalAlign: 'middle' }
  })
})
// y label for the first panel
graphic.push({
  type: 'text', x: 0, y: 97,
  style: { text: 'Δω', fill: TEXT_GRAY, fontFamily: FONT, fontSize: 14, align: 'left', verticalAlign: 'middle' }
})
graphic.push({
  type: 'text', x: 19, y: 101,
  style: { text: 'y', fill: TEXT_GRAY, fontFamily: FONT, fontSize: 10, align: 'left', verticalAlign: 'middle' }
})
// legend, rotated
graphic.push({
  type: 'text', x: 935, y: 190, rotation: Math.PI / 2,
  style: { text: legendLabels[0], fill: '#555', fontFamily: FONT, fontSize: 12, align: 'left', verticalAlign: 'middle' }
})
graphic.push({
  type: 'text', x: 955, y: 190, rotation: Math.PI / 2,
  style: { text: legendLabels[1], fill: '#555', fontFamily: FONT, fontSize: 12, align: 'left', verticalAlign: 'middle' }
})
graphic.push({ type: 'circle', shape: { cx: 935, cy: 200, r: 2.5 }, style: { fill: BLUE } })
graphic.push({ type: 'circle', shape: { cx: 956, cy: 200, r: 2.8 }, style: { fill: null, stroke: RED, lineWidth: 1 } })

chart.setOption({
  animation: false,
  backgroundColor: '#fff',
  grid, xAxis, yAxis, series, graphic
})
</script>
</body>
</html>
